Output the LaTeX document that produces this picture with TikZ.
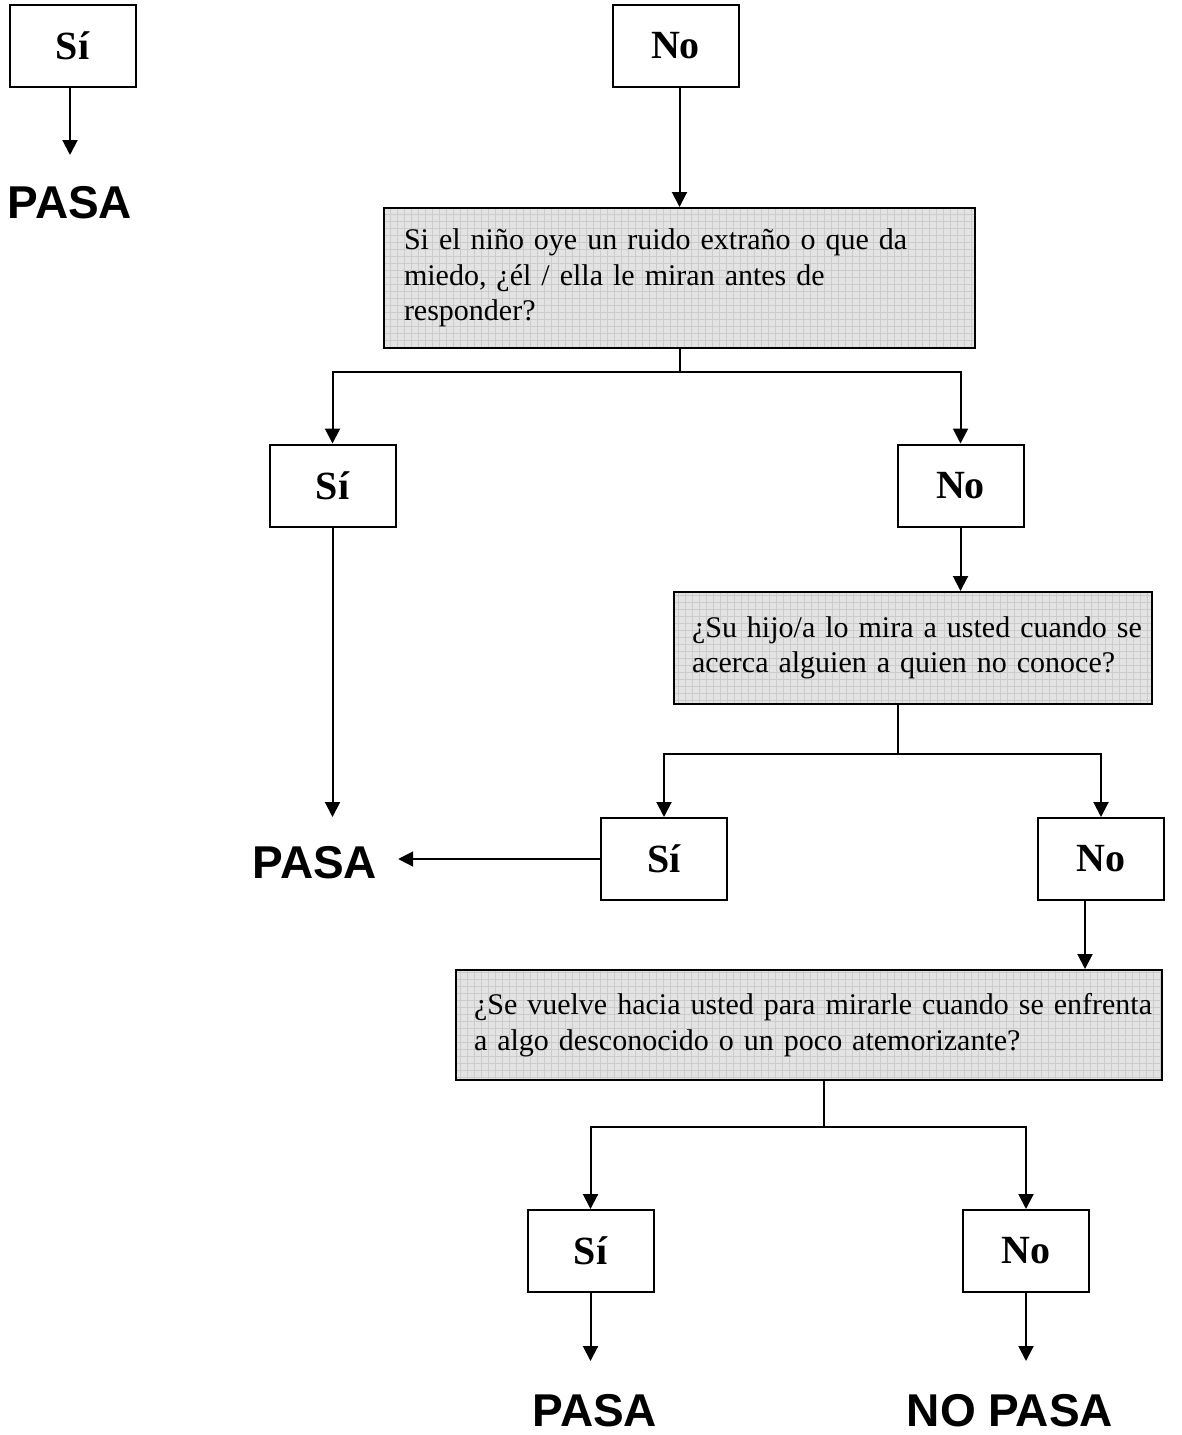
\documentclass[tikz,border=0pt]{standalone}
\usepackage{fontspec}
\setmainfont{Liberation Serif}[WordSpace=0.7]
\setsansfont{Liberation Sans}
\usetikzlibrary{arrows.meta}

\begin{document}
\begin{tikzpicture}[x=0.5pt,y=-0.5pt,line width=1pt,
    answer/.style={draw,rectangle,inner sep=0pt,minimum width=63pt,minimum height=41pt,
      font=\fontsize{20pt}{24pt}\selectfont\bfseries},
    question/.style={draw,rectangle,inner ysep=0pt,align=left,fill=black!11,
      font=\fontsize{15pt}{17.75pt}\selectfont,
      path picture={\draw[black!20,line width=0.25pt,step=3.5pt]
        (path picture bounding box.south west) grid (path picture bounding box.north east);}},
    result/.style={inner sep=0pt,text height=17pt,text depth=0pt,
      font=\fontsize{23pt}{27pt}\selectfont\sffamily\bfseries},
    arr/.style={-{Triangle[length=7.5pt,width=7.5pt]}}]
  \useasboundingbox (0,0) rectangle (1182,1435);
  % answer boxes
  \node[answer] (si1) at (72.5,45.5) {Sí};
  \node[answer] (no1) at (675.5,45.5) {No};
  \node[answer] (si2) at (332.5,485.5) {Sí};
  \node[answer] (no2) at (960.5,485.5) {No};
  \node[answer] (si3) at (664,859) {Sí};
  \node[answer] (no3) at (1101,859) {No};
  \node[answer] (si4) at (590.5,1251) {Sí};
  \node[answer] (no4) at (1026,1251) {No};
  % questions
  \node[question,inner xsep=10pt,text width=275.5pt,minimum height=70pt] (q1) at (679.5,278)
    {\mbox{Si el niño oye un ruido extraño o que da}\\\mbox{miedo, ¿él / ella le miran antes de}\\\mbox{responder?}};
  \node[question,inner xsep=9pt,text width=221pt,minimum height=56pt] (q2) at (913,648)
    {\mbox{¿Su hijo/a lo mira a usted cuando se}\\\mbox{acerca alguien a quien no conoce?}};
  \node[question,inner xsep=9pt,text width=335pt,minimum height=55pt] (q3) at (809,1025)
    {\mbox{¿Se vuelve hacia usted para mirarle cuando se enfrenta}\\\mbox{a algo desconocido o un poco atemorizante?}};
  % results
  \node[result] (pasa1) at (70,201) {PASA};
  \node[result] (pasa2) at (315,861) {PASA};
  \node[result] (pasa4) at (595,1409) {PASA};
  \node[result] (nopasa) at (1010,1409) {NO PASA};
  % branch points
  \coordinate (b1) at (679.5,372);
  \coordinate (b2) at (898,754);
  \coordinate (b3) at (824,1127);
  % first level
  \draw[arr,shorten >=14pt] (si1.south -| pasa1) -- (pasa1);
  \draw[arr] (no1.south -| q1.north) -- (q1.north);
  \draw (q1.south) -- (b1);
  \draw[arr] (b1) -| (si2);
  \draw[arr] (b1) -| (no2);
  % second level
  \draw[arr,shorten >=13pt] (si2.south) -- (si2.south |- pasa2.north);
  \draw[arr] (no2.south) -- (no2.south |- q2.north);
  \draw (b2 |- q2.south) -- (b2);
  \draw[arr] (b2) -| (si3);
  \draw[arr] (b2) -| (no3);
  % third level
  \draw[arr,shorten >=10pt] (si3.west) -- (si3.west -| pasa2.east);
  \draw[arr] ([xshift=-8pt]no3.south) -- ([xshift=-8pt]no3.south |- q3.north);
  \draw (b3 |- q3.south) -- (b3);
  \draw[arr] (b3) -| (si4);
  \draw[arr] (b3) -| (no4);
  % last level
  \draw[arr,shorten >=15pt] (si4.south) -- (si4.south |- pasa4.north);
  \draw[arr,shorten >=15pt] (no4.south) -- (no4.south |- nopasa.north);
\end{tikzpicture}
\end{document}
